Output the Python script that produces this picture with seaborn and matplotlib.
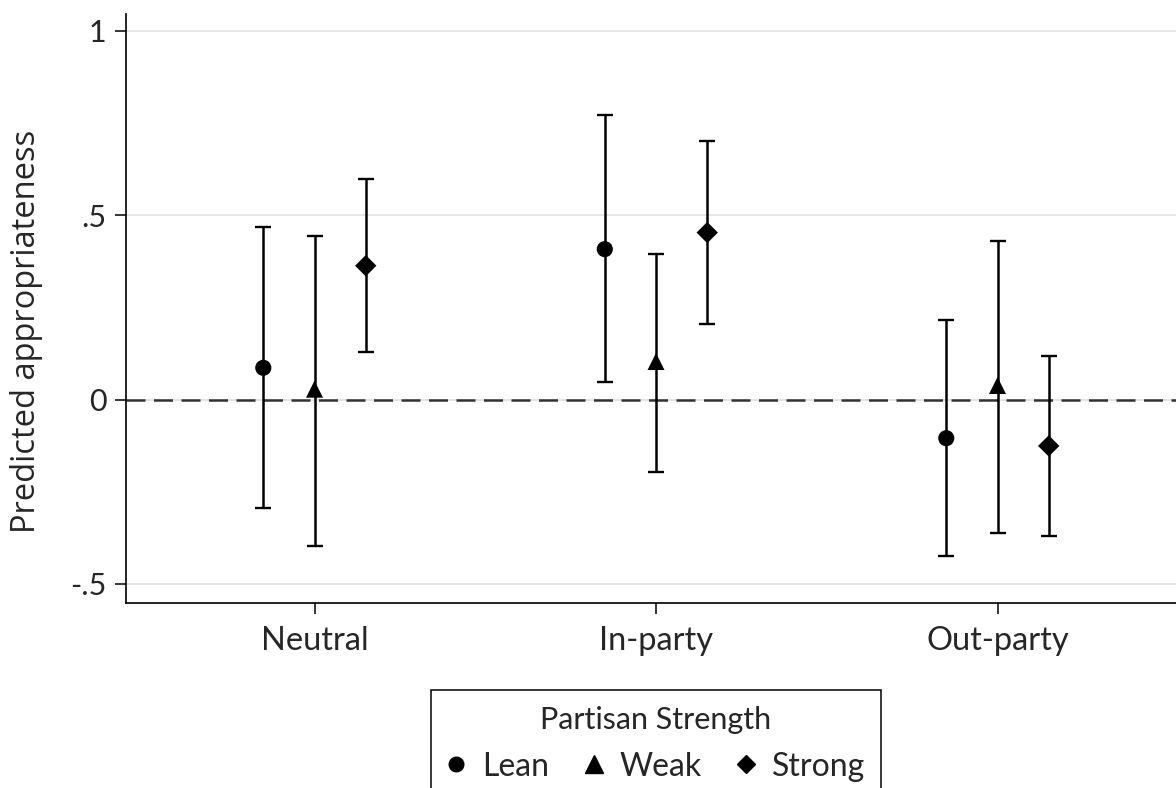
import numpy as np
import pandas as pd
import matplotlib
matplotlib.use("Agg")
import matplotlib.pyplot as plt
from matplotlib.lines import Line2D
import seaborn as sns

# Treatment conditions on the x axis and partisan-strength groups
conditions = ["Neutral", "In-party", "Out-party"]
strengths = ["Lean", "Weak", "Strong"]

# Point estimates per strength group, in condition order
lean_est = [0.086, 0.408, -0.105]
weak_est = [0.028, 0.103, 0.038]
strong_est = [0.363, 0.453, -0.126]

# 95% confidence bounds
lean_lo = [-0.295, 0.047, -0.424]
lean_hi = [0.467, 0.771, 0.217]
weak_lo = [-0.397, -0.196, -0.362]
weak_hi = [0.443, 0.394, 0.431]
strong_lo = [0.130, 0.205, -0.370]
strong_hi = [0.598, 0.701, 0.118]

ytick_vals = [-0.5, 0, 0.5, 1]
ytick_labels = ["-.5", "0", ".5", "1"]

# Long-format table
rows = []
for s, est, lo, hi in [("Lean", lean_est, lean_lo, lean_hi),
                       ("Weak", weak_est, weak_lo, weak_hi),
                       ("Strong", strong_est, strong_lo, strong_hi)]:
    for c, e, l, h in zip(conditions, est, lo, hi):
        rows.append({"Condition": c, "Strength": s, "estimate": e, "lo": l, "hi": h})
df = pd.DataFrame(rows)

dodge = {"Lean": -0.15, "Weak": 0.0, "Strong": 0.15}
df["xpos"] = df["Condition"].map({c: i for i, c in enumerate(conditions)}) + df["Strength"].map(dodge)

sns.set_theme(style="white")
plt.rcParams["font.family"] = ["Lato", "DejaVu Sans"]

fig = plt.figure(figsize=(11.76, 7.88), dpi=100)
ax = fig.add_axes([125.7 / 1176, 1 - 602.7 / 788, 1 - 125.7 / 1176, (602.7 - 14) / 788])

# light horizontal grid lines
for yv in ytick_vals:
    ax.axhline(yv, color="#dedede", lw=1.1, zorder=0)
# reference line at zero
ax.axhline(0, color="#333333", lw=1.8, linestyle=(0, (7.6, 3.4)), zorder=1)

# confidence intervals
for s in strengths:
    sub = df[df["Strength"] == s]
    ax.errorbar(sub["xpos"], sub["estimate"],
                yerr=[sub["estimate"] - sub["lo"], sub["hi"] - sub["estimate"]],
                fmt="none", ecolor="black", elinewidth=1.8, capsize=5.6,
                capthick=1.7, zorder=2)

# point estimates
sns.scatterplot(data=df, x="xpos", y="estimate", style="Strength", size="Strength",
                markers={"Lean": "o", "Weak": "^", "Strong": "D"},
                sizes={"Lean": 135, "Weak": 150, "Strong": 118},
                color="black", linewidth=0, legend=False, zorder=3, ax=ax)

ax.set_xlim(-0.5529, 2.5227)
ax.set_ylim(-0.5514, 1.0461)
ax.set_xticks(range(len(conditions)))
ax.set_xticklabels(conditions, fontsize=23.5)
ax.set_yticks(ytick_vals)
ax.set_yticklabels(ytick_labels, fontsize=22)
ax.set_xlabel("")
ax.set_ylabel("Predicted appropriateness", family=["Open Sans", "DejaVu Sans"],
              fontsize=23.5)
ax.yaxis.set_label_coords(-0.0790, 0.4615)

for side in ["top", "right"]:
    ax.spines[side].set_visible(False)
for side in ["left", "bottom"]:
    ax.spines[side].set_color("black")
    ax.spines[side].set_linewidth(1.2)
ax.tick_params(axis="both", which="major", direction="out", color="black",
               width=1.1, length=8, left=True, bottom=True)
ax.tick_params(axis="y", pad=6)
ax.tick_params(axis="x", pad=9)

handles = [
    Line2D([], [], marker="o", color="black", linestyle="none", markersize=10.5),
    Line2D([], [], marker="^", color="black", linestyle="none", markersize=12.5),
    Line2D([], [], marker="D", color="black", linestyle="none", markersize=9.6),
]
leg = fig.legend(handles, strengths, title="Partisan Strength", ncol=3,
                 loc="upper center", bbox_to_anchor=(656 / 1176, 1 - 690 / 788),
                 frameon=True, fancybox=False, edgecolor="black", framealpha=1,
                 fontsize=23, title_fontsize=22, handlelength=0.6,
                 handletextpad=0.5, columnspacing=1.1, borderpad=0.5,
                 labelspacing=0.55, borderaxespad=0)
leg.get_frame().set_linewidth(1.1)

fig.savefig("out.png", dpi=100, facecolor="white")
